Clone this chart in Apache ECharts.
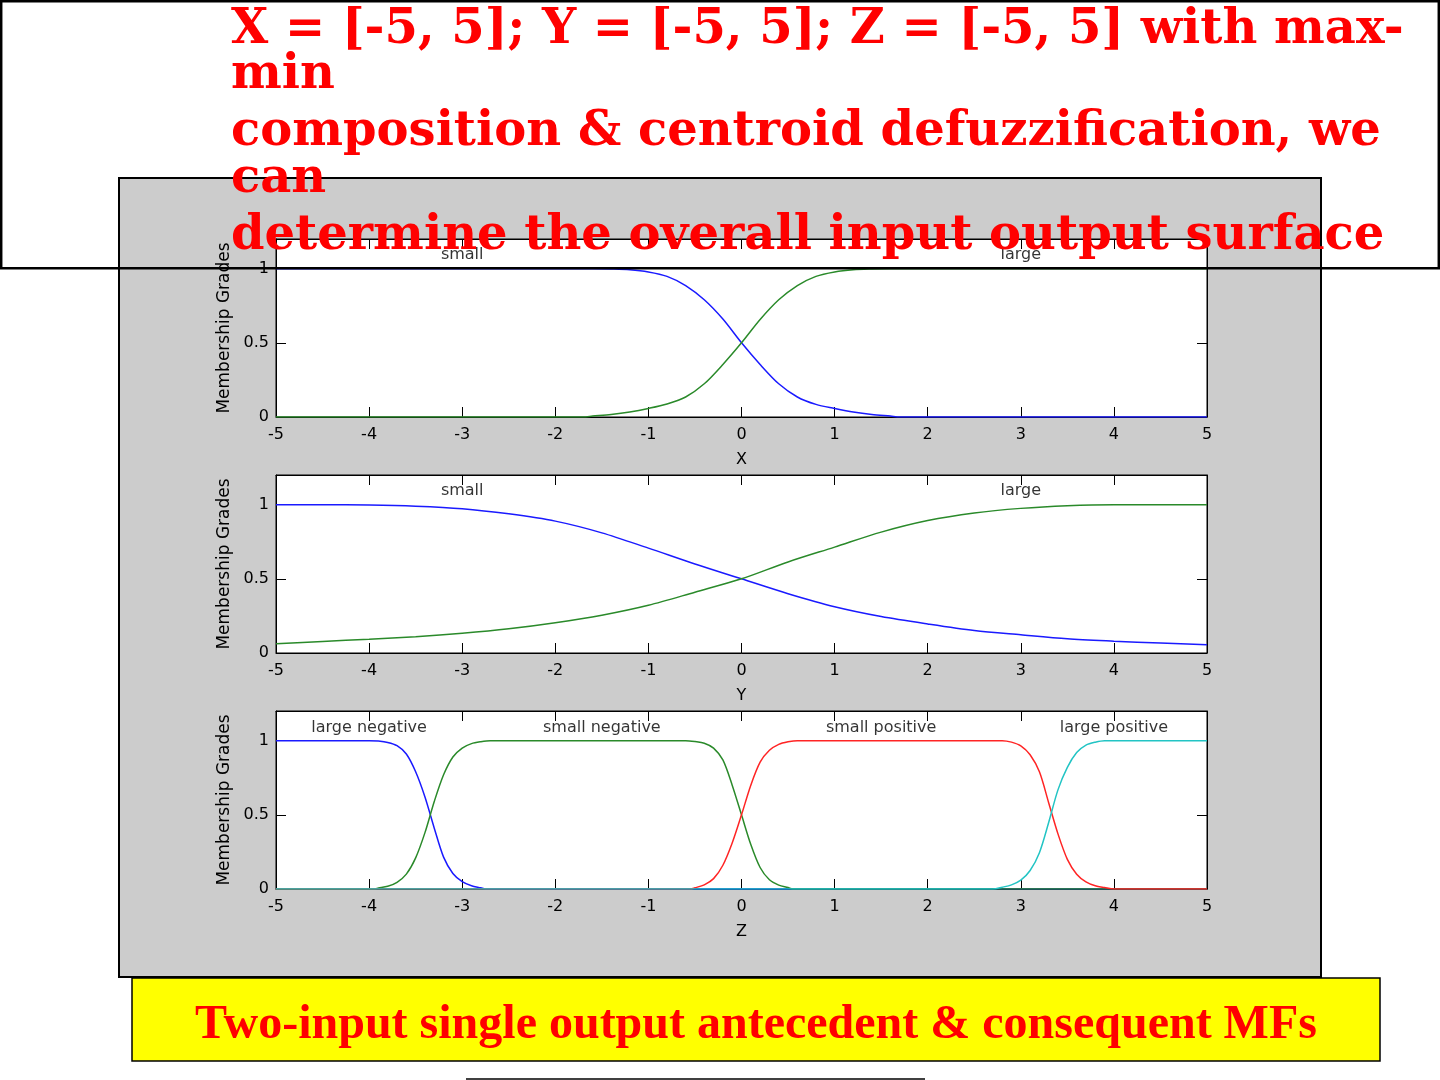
<!DOCTYPE html>
<html><head><meta charset="utf-8">
<script src="https://cdn.jsdelivr.net/npm/echarts@6/dist/echarts.min.js"></script>
<style>html,body{margin:0;padding:0;background:#fff}#c{width:1440px;height:1080px}</style>
</head><body><div id="c"></div>
<script>
// ---------- data ----------
const titleLines = [
  'X = [-5, 5]; Y = [-5, 5]; Z = [-5, 5] with max-',
  'min',
  'composition & centroid defuzzification, we',
  'can',
  'determine the overall input output surface'
];
const bannerText = 'Two-input single output antecedent & consequent MFs';
const xTickValues = [-5, -4, -3, -2, -1, 0, 1, 2, 3, 4, 5];
const yTickValues = [0, 0.5, 1];
const axisNames = ['X', 'Y', 'Z'];
const yAxisName = 'Membership Grades';

// panel 1 : input X
const xSmall = [[-5,1],[-4,1],[-3,1],[-2,1],[-1.6,1],[-1.4,0.998],[-1.2,0.993],[-1.0,0.978],[-0.8,0.948],[-0.6,0.886],[-0.4,0.79],[-0.2,0.66],[0,0.5],[0.2,0.354],[0.4,0.224],[0.6,0.135],[0.8,0.085],[1.0,0.058],[1.2,0.034],[1.4,0.017],[1.6,0.006],[1.7,0],[5,0]];
const xLarge = [[-5,0],[-1.7,0],[-1.6,0.006],[-1.4,0.017],[-1.2,0.034],[-1.0,0.058],[-0.8,0.088],[-0.6,0.135],[-0.4,0.224],[-0.2,0.354],[0,0.5],[0.2,0.657],[0.4,0.79],[0.6,0.886],[0.8,0.948],[1.0,0.978],[1.2,0.993],[1.4,0.998],[1.6,1],[2,1],[3,1],[4,1],[5,1]];
const xLabelNames = ['small', 'large'];
const xLabelAt = [[-3, 1.09], [3, 1.09]];

// panel 2 : input Y
const ySmall = [[-5,1],[-4.5,1],[-4,0.998],[-3.5,0.99],[-3,0.973],[-2.5,0.938],[-2,0.889],[-1.5,0.81],[-1,0.707],[-0.5,0.6],[0,0.5],[0.5,0.4],[1,0.312],[1.5,0.246],[2,0.196],[2.5,0.152],[3,0.123],[3.5,0.096],[4,0.08],[4.5,0.067],[5,0.056]];
const yLarge = [[-5,0.062],[-4.5,0.078],[-4,0.093],[-3.5,0.11],[-3,0.133],[-2.5,0.163],[-2,0.204],[-1.5,0.255],[-1,0.322],[-0.5,0.41],[0,0.5],[0.5,0.614],[1,0.714],[1.5,0.815],[2,0.893],[2.5,0.944],[3,0.975],[3.5,0.993],[4,1],[4.5,1],[5,1]];
const yLabelNames = ['small', 'large'];
const yLabelAt = [[-3, 1.09], [3, 1.09]];

// panel 3 : output Z
const zLargeNegative = [[-5,1],[-4,1],[-3.9,0.997],[-3.8,0.988],[-3.7,0.966],[-3.6,0.91],[-3.5,0.79],[-3.4,0.62],[-3.3,0.41],[-3.2,0.215],[-3.1,0.105],[-3.0,0.05],[-2.9,0.022],[-2.8,0.008],[-2.75,0],[5,0]];
const zSmallNegative = [[-5,0],[-3.95,0],[-3.9,0.006],[-3.8,0.018],[-3.7,0.045],[-3.6,0.1],[-3.5,0.21],[-3.4,0.38],[-3.3,0.59],[-3.2,0.77],[-3.1,0.89],[-3.0,0.95],[-2.9,0.98],[-2.8,0.993],[-2.7,1],[-0.6,1],[-0.5,0.994],[-0.4,0.983],[-0.3,0.95],[-0.2,0.87],[-0.1,0.7],[0,0.5],[0.1,0.3],[0.2,0.145],[0.3,0.062],[0.4,0.026],[0.5,0.01],[0.55,0],[5,0]];
const zSmallPositive = [[-5,0],[-0.55,0],[-0.5,0.008],[-0.4,0.028],[-0.3,0.07],[-0.2,0.16],[-0.1,0.31],[0,0.5],[0.1,0.7],[0.2,0.855],[0.3,0.935],[0.4,0.975],[0.5,0.992],[0.6,1],[2.8,1],[2.9,0.99],[3.0,0.965],[3.1,0.905],[3.2,0.79],[3.3,0.58],[3.4,0.37],[3.5,0.2],[3.6,0.1],[3.7,0.048],[3.8,0.022],[3.9,0.01],[4.0,0],[5,0]];
const zLargePositive = [[-5,0],[2.7,0],[2.8,0.012],[2.9,0.028],[3.0,0.06],[3.1,0.125],[3.2,0.245],[3.3,0.45],[3.4,0.67],[3.5,0.82],[3.6,0.92],[3.7,0.97],[3.8,0.99],[3.9,1],[5,1]];
const zLabelNames = ['large negative', 'small negative', 'small positive', 'large positive'];
const zLabelAt = [[-4, 1.085], [-1.5, 1.085], [1.5, 1.085], [4, 1.085]];

// ---------- styling / layout ----------
const C_BLUE = '#1a1aff', C_GREEN = '#2a8a2a', C_RED = '#ff2424', C_CYAN = '#22c4c4';
const panels = [
  { top: 239, lines: [[xSmall, C_BLUE], [xLarge, C_GREEN]], names: xLabelNames, at: xLabelAt },
  { top: 475, lines: [[ySmall, C_BLUE], [yLarge, C_GREEN]], names: yLabelNames, at: yLabelAt },
  { top: 711, lines: [[zLargeNegative, C_BLUE], [zSmallNegative, C_GREEN], [zSmallPositive, C_RED], [zLargePositive, C_CYAN]], names: zLabelNames, at: zLabelAt }
];
const FONT = 'DejaVu Sans';
const grids = [], xAxes = [], yAxes = [], series = [];
panels.forEach((p, i) => {
  grids.push({ left: 276, width: 931, top: p.top, height: 178, show: true, backgroundColor: '#fff', borderColor: '#000', borderWidth: 1 });
  const tick = { show: true, inside: true, length: 10, lineStyle: { color: '#000', width: 1 } };
  xAxes.push({
    type: 'value', gridIndex: i, min: -5, max: 5, interval: 1, position: 'bottom',
    name: axisNames[i], nameLocation: 'middle', nameGap: 35,
    nameTextStyle: { fontFamily: FONT, fontSize: 16, color: '#000' },
    axisLine: { show: true, onZero: false, lineStyle: { color: '#000' } },
    axisTick: Object.assign({ customValues: xTickValues }, tick),
    axisLabel: { customValues: xTickValues, color: '#000', fontFamily: FONT, fontSize: 16, margin: 10 },
    splitLine: { show: false }
  });
  xAxes.push({
    type: 'value', gridIndex: i, min: -5, max: 5, interval: 1, position: 'top',
    axisLine: { show: true, onZero: false, lineStyle: { color: '#000' } },
    axisTick: Object.assign({ customValues: xTickValues }, tick),
    axisLabel: { show: false }, splitLine: { show: false }
  });
  yAxes.push({
    type: 'value', gridIndex: i, min: 0, max: 1.2, position: 'left',
    name: yAxisName, nameLocation: 'middle', nameGap: 41, nameRotate: 90,
    nameTextStyle: { fontFamily: FONT, fontSize: 17, color: '#000' },
    axisLine: { show: true, onZero: false, lineStyle: { color: '#000' } },
    axisTick: Object.assign({ customValues: yTickValues }, tick),
    axisLabel: { customValues: yTickValues, color: '#000', fontFamily: FONT, fontSize: 16, margin: 7 },
    splitLine: { show: false }
  });
  yAxes.push({
    type: 'value', gridIndex: i, min: 0, max: 1.2, position: 'right',
    axisLine: { show: true, onZero: false, lineStyle: { color: '#000' } },
    axisTick: Object.assign({ customValues: yTickValues }, tick),
    axisLabel: { show: false }, splitLine: { show: false }
  });
  p.lines.forEach(([d, c]) => {
    series.push({
      type: 'line', xAxisIndex: 2 * i, yAxisIndex: 2 * i, data: d, showSymbol: false, symbol: 'none',
      smooth: 0.3, lineStyle: { color: c, width: 1.5 }, silent: true
    });
  });
  series.push({
    type: 'scatter', xAxisIndex: 2 * i, yAxisIndex: 2 * i, symbolSize: 0, silent: true,
    data: p.names.map((n, k) => ({ name: n, value: p.at[k] })),
    label: { show: true, position: 'inside', formatter: '{b}', color: '#000', fontFamily: FONT, fontSize: 16 }
  });
});

const titleBaselineCenters = [31, 76, 133, 180, 237];
const graphic = [
  { type: 'rect', z: -10, shape: { x: 119, y: 178, width: 1202, height: 799 }, style: { fill: '#cccccc', stroke: '#000', lineWidth: 2 } },
  { type: 'rect', z: 50, shape: { x: 1.2, y: 1.2, width: 1437.6, height: 267 }, style: { fill: 'none', stroke: '#000', lineWidth: 2.5 } },
  { type: 'rect', z: 50, shape: { x: 132, y: 978, width: 1248, height: 83 }, style: { fill: '#ffff00', stroke: '#000', lineWidth: 1.5 } },
  { type: 'text', z: 60, style: { text: bannerText, x: 756, y: 1026, align: 'center', verticalAlign: 'middle', font: 'bold 48px "Liberation Serif"', fill: '#ff0000', textShadowColor: '#4a0000', textShadowOffsetX: 2, textShadowOffsetY: 2, textShadowBlur: 0 } },
  { type: 'line', z: 50, shape: { x1: 466, y1: 1079, x2: 925, y2: 1079 }, style: { stroke: '#000', lineWidth: 1.5 } }
];
titleLines.forEach((t, k) => {
  graphic.push({ type: 'text', z: 60, style: { text: t, x: 231, y: titleBaselineCenters[k], align: 'left', verticalAlign: 'middle', font: 'bold 48px "DejaVu Serif"', fill: '#ff0000' } });
});

const chart = echarts.init(document.getElementById('c'), null, { renderer: 'canvas' });
chart.setOption({
  animation: false,
  backgroundColor: '#ffffff',
  grid: grids, xAxis: xAxes, yAxis: yAxes, series: series, graphic: graphic
});
</script></body></html>
